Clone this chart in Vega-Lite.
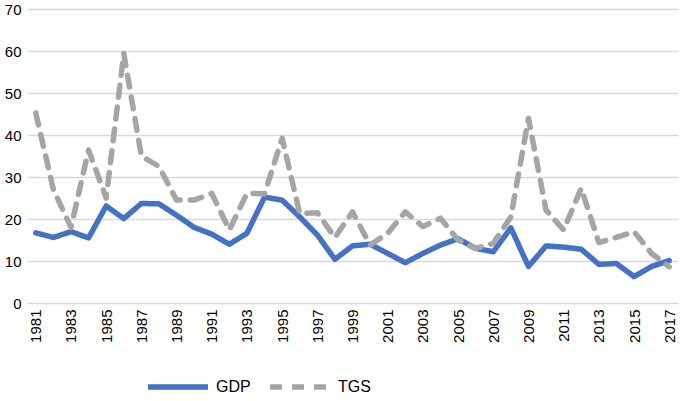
{
  "$schema": "https://vega.github.io/schema/vega-lite/v6.json",
  "width": 651,
  "height": 294,
  "autosize": {"type": "none"},
  "padding": {"left": 27, "top": 9, "right": 7, "bottom": 98},
  "background": "white",
  "config": {
    "view": {"stroke": null},
    "font": "Liberation Sans"
  },
  "data": {
    "values": [
      {"year": 1981, "series": "GDP", "value": 16.7}, {"year": 1982, "series": "GDP", "value": 15.6},
      {"year": 1983, "series": "GDP", "value": 17.0}, {"year": 1984, "series": "GDP", "value": 15.5},
      {"year": 1985, "series": "GDP", "value": 23.1}, {"year": 1986, "series": "GDP", "value": 20.1},
      {"year": 1987, "series": "GDP", "value": 23.7}, {"year": 1988, "series": "GDP", "value": 23.6},
      {"year": 1989, "series": "GDP", "value": 20.9}, {"year": 1990, "series": "GDP", "value": 18.0},
      {"year": 1991, "series": "GDP", "value": 16.4}, {"year": 1992, "series": "GDP", "value": 14.0},
      {"year": 1993, "series": "GDP", "value": 16.6}, {"year": 1994, "series": "GDP", "value": 25.2},
      {"year": 1995, "series": "GDP", "value": 24.5}, {"year": 1996, "series": "GDP", "value": 20.5},
      {"year": 1997, "series": "GDP", "value": 16.2}, {"year": 1998, "series": "GDP", "value": 10.4},
      {"year": 1999, "series": "GDP", "value": 13.6}, {"year": 2000, "series": "GDP", "value": 14.0},
      {"year": 2001, "series": "GDP", "value": 11.8}, {"year": 2002, "series": "GDP", "value": 9.6},
      {"year": 2003, "series": "GDP", "value": 11.8}, {"year": 2004, "series": "GDP", "value": 13.8},
      {"year": 2005, "series": "GDP", "value": 15.3}, {"year": 2006, "series": "GDP", "value": 13.0},
      {"year": 2007, "series": "GDP", "value": 12.2}, {"year": 2008, "series": "GDP", "value": 17.9},
      {"year": 2009, "series": "GDP", "value": 8.7}, {"year": 2010, "series": "GDP", "value": 13.6},
      {"year": 2011, "series": "GDP", "value": 13.3}, {"year": 2012, "series": "GDP", "value": 12.8},
      {"year": 2013, "series": "GDP", "value": 9.2}, {"year": 2014, "series": "GDP", "value": 9.4},
      {"year": 2015, "series": "GDP", "value": 6.3}, {"year": 2016, "series": "GDP", "value": 8.7},
      {"year": 2017, "series": "GDP", "value": 10.1},
      {"year": 1981, "series": "TGS", "value": 45.2}, {"year": 1982, "series": "TGS", "value": 27.0},
      {"year": 1983, "series": "TGS", "value": 18.0}, {"year": 1984, "series": "TGS", "value": 36.4},
      {"year": 1985, "series": "TGS", "value": 25.0}, {"year": 1986, "series": "TGS", "value": 59.4},
      {"year": 1987, "series": "TGS", "value": 35.0}, {"year": 1988, "series": "TGS", "value": 32.5},
      {"year": 1989, "series": "TGS", "value": 24.5}, {"year": 1990, "series": "TGS", "value": 24.5},
      {"year": 1991, "series": "TGS", "value": 26.1}, {"year": 1992, "series": "TGS", "value": 17.4},
      {"year": 1993, "series": "TGS", "value": 26.1}, {"year": 1994, "series": "TGS", "value": 26.0},
      {"year": 1995, "series": "TGS", "value": 39.2}, {"year": 1996, "series": "TGS", "value": 21.3},
      {"year": 1997, "series": "TGS", "value": 21.5}, {"year": 1998, "series": "TGS", "value": 15.6},
      {"year": 1999, "series": "TGS", "value": 21.7}, {"year": 2000, "series": "TGS", "value": 13.8},
      {"year": 2001, "series": "TGS", "value": 16.6}, {"year": 2002, "series": "TGS", "value": 21.7},
      {"year": 2003, "series": "TGS", "value": 18.2}, {"year": 2004, "series": "TGS", "value": 20.2},
      {"year": 2005, "series": "TGS", "value": 15.0}, {"year": 2006, "series": "TGS", "value": 13.0},
      {"year": 2007, "series": "TGS", "value": 14.2}, {"year": 2008, "series": "TGS", "value": 20.5},
      {"year": 2009, "series": "TGS", "value": 44.0}, {"year": 2010, "series": "TGS", "value": 22.1},
      {"year": 2011, "series": "TGS", "value": 17.4}, {"year": 2012, "series": "TGS", "value": 27.3},
      {"year": 2013, "series": "TGS", "value": 14.4}, {"year": 2014, "series": "TGS", "value": 15.6},
      {"year": 2015, "series": "TGS", "value": 17.0}, {"year": 2016, "series": "TGS", "value": 11.8},
      {"year": 2017, "series": "TGS", "value": 8.6}
    ]
  },
  "mark": {"type": "line", "strokeWidth": 5.5, "strokeCap": "round", "strokeJoin": "round"},
  "encoding": {
    "x": {
      "field": "year",
      "type": "ordinal",
      "scale": {"type": "point", "padding": 0.5},
      "axis": {
        "title": null,
        "values": [1981, 1983, 1985, 1987, 1989, 1991, 1993, 1995, 1997, 1999, 2001, 2003, 2005, 2007, 2009, 2011, 2013, 2015, 2017],
        "labelAngle": -90,
        "labelFontSize": 15,
        "labelColor": "#000000",
        "labelPadding": 6,
        "ticks": false,
        "domain": false,
        "grid": false
      }
    },
    "y": {
      "field": "value",
      "type": "quantitative",
      "scale": {"domain": [0, 70], "nice": false},
      "axis": {
        "title": null,
        "values": [0, 10, 20, 30, 40, 50, 60, 70],
        "labelFontSize": 15,
        "labelColor": "#000000",
        "labelPadding": 6,
        "ticks": false,
        "domain": false,
        "gridColor": "#D9D9D9",
        "gridWidth": 1.5
      }
    },
    "color": {
      "field": "series",
      "type": "nominal",
      "scale": {"domain": ["GDP", "TGS"], "range": ["#4472C4", "#A5A5A5"]},
      "legend": {
        "title": null,
        "orient": "none",
        "direction": "horizontal",
        "legendX": 118,
        "legendY": 345,
        "symbolType": "stroke",
        "symbolSize": 3600,
        "symbolStrokeWidth": 5.5,
        "labelFontSize": 16,
        "labelColor": "#000000",
        "columnPadding": 8,
        "labelOffset": 5
      }
    },
    "strokeDash": {
      "field": "series",
      "type": "nominal",
      "scale": {"domain": ["GDP", "TGS"], "range": [[1, 0], [12, 10]]},
      "legend": null
    }
  }
}
